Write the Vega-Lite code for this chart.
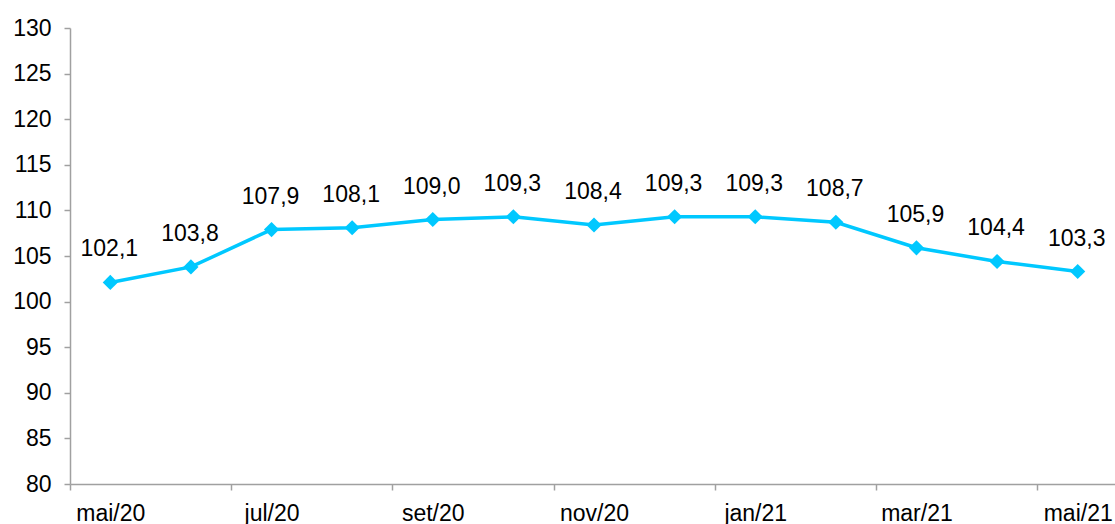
{
  "$schema": "https://vega.github.io/schema/vega-lite/v6.json",
  "autosize": "none",
  "padding": {"left": 70, "top": 28, "right": 0, "bottom": 40},
  "width": 1048,
  "height": 456,
  "background": "white",
  "config": {"view": {"stroke": null}, "font": "Liberation Sans"},
  "data": {"values": [
    {"mes": "mai/20", "v": 102.1, "t": "102,1"},
    {"mes": "jun/20", "v": 103.8, "t": "103,8"},
    {"mes": "jul/20", "v": 107.9, "t": "107,9"},
    {"mes": "ago/20", "v": 108.1, "t": "108,1"},
    {"mes": "set/20", "v": 109.0, "t": "109,0"},
    {"mes": "out/20", "v": 109.3, "t": "109,3"},
    {"mes": "nov/20", "v": 108.4, "t": "108,4"},
    {"mes": "dez/20", "v": 109.3, "t": "109,3"},
    {"mes": "jan/21", "v": 109.3, "t": "109,3"},
    {"mes": "fev/21", "v": 108.7, "t": "108,7"},
    {"mes": "mar/21", "v": 105.9, "t": "105,9"},
    {"mes": "abr/21", "v": 104.4, "t": "104,4"},
    {"mes": "mai/21", "v": 103.3, "t": "103,3"}
  ]},
  "encoding": {
    "x": {"field": "mes", "type": "ordinal", "sort": null,
      "scale": {"type": "band", "paddingInner": 0, "paddingOuter": 0},
      "axis": {"title": null, "values": ["mai/20","jul/20","set/20","nov/20","jan/21","mar/21","mai/21"],
        "tickOffset": -40.3, "labelOffset": 40.3, "labelAngle": 0, "labelFontSize": 23, "labelColor": "#000000",
        "labelFont": "Liberation Sans", "domainColor": "#a0a0a0", "domainWidth": 1.5, "tickColor": "#a0a0a0",
        "tickWidth": 1.5, "tickSize": 6, "labelPadding": 12, "grid": false}},
    "y": {"field": "v", "type": "quantitative",
      "scale": {"domain": [80, 130], "nice": false, "zero": false},
      "axis": {"title": null, "values": [80,85,90,95,100,105,110,115,120,125,130],
        "labelFontSize": 23, "labelColor": "#000000", "labelFont": "Liberation Sans",
        "domainColor": "#a0a0a0", "domainWidth": 1.5, "tickColor": "#a0a0a0", "tickWidth": 1.5,
        "tickSize": 6, "labelPadding": 13, "grid": false}}
  },
  "layer": [
    {"mark": {"type": "line", "color": "#00c8ff", "strokeWidth": 3.5}},
    {"mark": {"type": "point", "shape": "diamond", "filled": true, "color": "#00c8ff", "size": 230, "opacity": 1}},
    {"mark": {"type": "text", "fontSize": 23, "color": "#000000", "dy": -33, "dx": -1, "font": "Liberation Sans"},
     "encoding": {"text": {"field": "t"}}}
  ]
}
